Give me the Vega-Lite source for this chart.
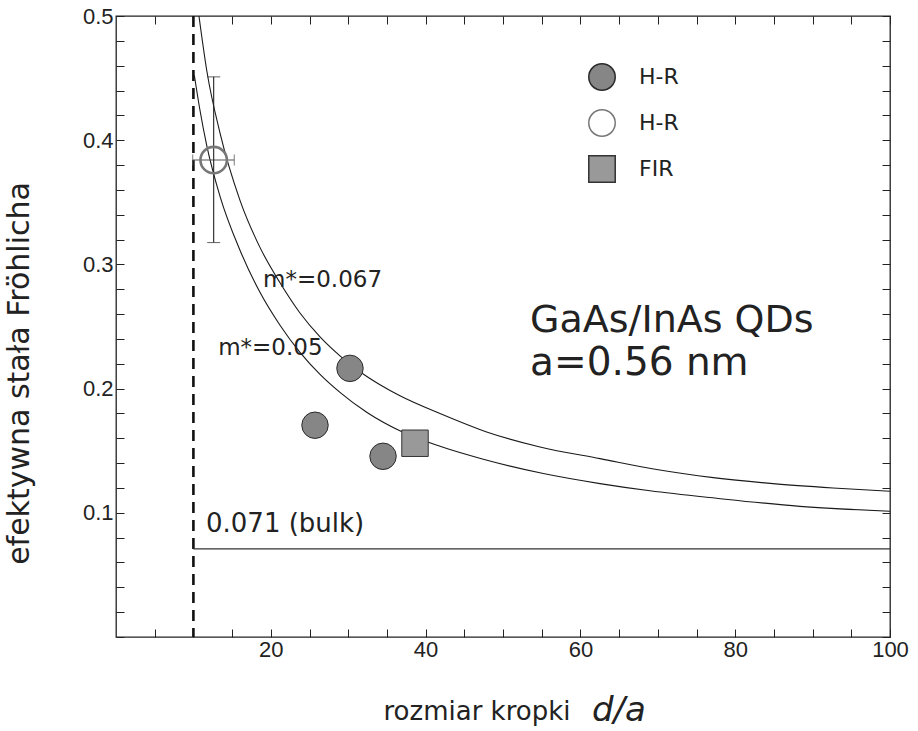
{
  "$schema": "https://vega.github.io/schema/vega-lite/v6.json",
  "width": 774,
  "height": 621,
  "autosize": {"type": "none"},
  "padding": {"left": 116, "top": 16, "right": 28, "bottom": 94},
  "background": "white",
  "config": {
    "view": {"stroke": "#222", "strokeWidth": 1.3},
    "axis": {"grid": false, "domain": false, "tickColor": "#222", "tickWidth": 1, "labelColor": "#222", "labelFont": "Liberation Sans", "labelFontSize": 22, "labelOverlap": false, "labelFlush": false}
  },
  "datasets": {
    "curves": [
      {"curve": "m067", "x": 10.72, "y": 0.5},
      {"curve": "m067", "x": 11.72, "y": 0.4563},
      {"curve": "m067", "x": 13.44, "y": 0.4057},
      {"curve": "m067", "x": 16.02, "y": 0.3516},
      {"curve": "m067", "x": 18.6, "y": 0.3137},
      {"curve": "m067", "x": 21.19, "y": 0.2852},
      {"curve": "m067", "x": 23.77, "y": 0.2609},
      {"curve": "m067", "x": 26.36, "y": 0.2417},
      {"curve": "m067", "x": 28.94, "y": 0.2264},
      {"curve": "m067", "x": 31.52, "y": 0.2136},
      {"curve": "m067", "x": 34.11, "y": 0.2031},
      {"curve": "m067", "x": 36.69, "y": 0.1942},
      {"curve": "m067", "x": 41.86, "y": 0.1799},
      {"curve": "m067", "x": 47.89, "y": 0.1651},
      {"curve": "m067", "x": 54.78, "y": 0.153},
      {"curve": "m067", "x": 62.53, "y": 0.1436},
      {"curve": "m067", "x": 69.86, "y": 0.1348},
      {"curve": "m067", "x": 77.17, "y": 0.1283},
      {"curve": "m067", "x": 84.88, "y": 0.1235},
      {"curve": "m067", "x": 92.64, "y": 0.12},
      {"curve": "m067", "x": 100, "y": 0.1173},
      {"curve": "m05", "x": 10.12, "y": 0.4523},
      {"curve": "m05", "x": 10.85, "y": 0.4241},
      {"curve": "m05", "x": 11.72, "y": 0.3959},
      {"curve": "m05", "x": 13.44, "y": 0.3548},
      {"curve": "m05", "x": 16.02, "y": 0.3114},
      {"curve": "m05", "x": 18.6, "y": 0.2775},
      {"curve": "m05", "x": 21.19, "y": 0.251},
      {"curve": "m05", "x": 23.77, "y": 0.2292},
      {"curve": "m05", "x": 26.36, "y": 0.2115},
      {"curve": "m05", "x": 28.94, "y": 0.197},
      {"curve": "m05", "x": 32.39, "y": 0.1809},
      {"curve": "m05", "x": 37.08, "y": 0.1648},
      {"curve": "m05", "x": 41.86, "y": 0.1535},
      {"curve": "m05", "x": 47.45, "y": 0.1431},
      {"curve": "m05", "x": 55.21, "y": 0.1316},
      {"curve": "m05", "x": 62.53, "y": 0.1235},
      {"curve": "m05", "x": 68.99, "y": 0.1177},
      {"curve": "m05", "x": 77.61, "y": 0.1117},
      {"curve": "m05", "x": 88.37, "y": 0.1052},
      {"curve": "m05", "x": 100, "y": 0.1012}
    ],
    "points": [
      {"series": "H-R filled", "x": 30.23, "y": 0.2163},
      {"series": "H-R filled", "x": 25.71, "y": 0.1705},
      {"series": "H-R filled", "x": 34.5, "y": 0.1455},
      {"series": "H-R open", "x": 12.62, "y": 0.384},
      {"series": "FIR", "x": 38.63, "y": 0.156}
    ],
    "err": [{"x": 12.62, "y": 0.384, "xlo": 9.91, "xhi": 15.28, "ylo": 0.3176, "yhi": 0.451}],
    "capsY": [{"x": 12.62, "y": 0.451}, {"x": 12.62, "y": 0.3176}],
    "capsX": [{"x": 9.91, "y": 0.384}, {"x": 15.28, "y": 0.384}],
    "labels": [
      {"text": "m*=0.067", "x": 19.0, "y": 0.2872, "size": 23},
      {"text": "m*=0.05", "x": 13.2, "y": 0.2329, "size": 23},
      {"text": "0.071 (bulk)", "x": 11.63, "y": 0.0907, "size": 26},
      {"text": "GaAs/InAs QDs", "x": 53.5, "y": 0.2545, "size": 38},
      {"text": "a=0.56 nm", "x": 53.5, "y": 0.2205, "size": 39}
    ]
  },
  "layer": [
    {
      "data": {"values": [{"x": 10}]},
      "mark": {"type": "rule", "color": "#111", "strokeWidth": 2.6, "strokeDash": [11, 7]},
      "encoding": {
        "x": {"field": "x", "type": "quantitative", "scale": {"domain": [0, 100], "nice": false, "zero": false}, "axis": null}
      }
    },
    {
      "data": {"values": [{"x": 10, "x2": 100, "y": 0.071}]},
      "mark": {"type": "rule", "color": "#333", "strokeWidth": 1.3},
      "encoding": {
        "x": {"field": "x", "type": "quantitative", "scale": {"domain": [0, 100], "nice": false, "zero": false},
              "axis": {"orient": "top", "values": [5,10,15,20,25,30,35,40,45,50,55,60,65,70,75,80,85,90,95,100], "labels": false, "tickSize": -8, "title": null}},
        "x2": {"field": "x2"},
        "y": {"field": "y", "type": "quantitative", "scale": {"domain": [0, 0.5], "nice": false, "zero": false},
              "axis": {"orient": "right", "values": [0,0.02,0.04,0.06,0.08,0.1,0.12,0.14,0.16,0.18,0.2,0.22,0.24,0.26,0.28,0.3,0.32,0.34,0.36,0.38,0.4,0.42,0.44,0.46,0.48,0.5], "labels": false, "tickSize": -8, "title": null}}
      }
    },
    {
      "data": {"name": "curves"},
      "mark": {"type": "line", "color": "#1a1a1a", "strokeWidth": 1.1, "interpolate": "monotone"},
      "encoding": {
        "x": {"field": "x", "type": "quantitative",
              "axis": {"orient": "bottom", "values": [5,10,15,20,25,30,35,40,45,50,55,60,65,70,75,80,85,90,95,100],
                       "labelExpr": "datum.value % 20 === 0 ? datum.label : ''", "tickSize": -8, "labelPadding": 10,
                       "title": "rozmiar kropki", "titleX": 267, "titleY": 82, "titleAlign": "left", "titleBaseline": "alphabetic",
                       "titleFont": "DejaVu Sans", "titleFontSize": 26, "titleFontWeight": "normal", "titleColor": "#222"}},
        "y": {"field": "y", "type": "quantitative",
              "axis": {"orient": "left", "values": [0,0.02,0.04,0.06,0.08,0.1,0.12,0.14,0.16,0.18,0.2,0.22,0.24,0.26,0.28,0.3,0.32,0.34,0.36,0.38,0.4,0.42,0.44,0.46,0.48,0.5],
                       "labelExpr": "datum.value > 0.01 && abs(datum.value*10 - round(datum.value*10)) < 0.001 ? format(datum.value, '.1f') : ''",
                       "tickSize": -8, "labelPadding": 11,
                       "title": "efektywna stała Fröhlicha", "titleX": -97, "titleY": 357, "titleAngle": -90, "titleAlign": "center", "titleBaseline": "middle",
                       "titleFont": "DejaVu Sans", "titleFontSize": 30, "titleFontWeight": "normal", "titleColor": "#222"}},
        "detail": {"field": "curve"},
        "order": {"field": "x", "type": "quantitative"}
      }
    },
    {
      "data": {"name": "err"},
      "mark": {"type": "rule", "color": "#555", "strokeWidth": 1.1},
      "encoding": {
        "x": {"field": "xlo", "type": "quantitative", "axis": null},
        "x2": {"field": "xhi"},
        "y": {"field": "y", "type": "quantitative", "axis": null}
      }
    },
    {
      "data": {"name": "err"},
      "mark": {"type": "rule", "color": "#222", "strokeWidth": 1.1},
      "encoding": {
        "x": {"field": "x", "type": "quantitative", "axis": null},
        "y": {"field": "ylo", "type": "quantitative", "axis": null},
        "y2": {"field": "yhi"}
      }
    },
    {
      "data": {"name": "capsY"},
      "mark": {"type": "tick", "orient": "horizontal", "color": "#333", "size": 13, "thickness": 1.1},
      "encoding": {
        "x": {"field": "x", "type": "quantitative", "axis": null},
        "y": {"field": "y", "type": "quantitative", "axis": null}
      }
    },
    {
      "data": {"name": "capsX"},
      "mark": {"type": "tick", "orient": "vertical", "color": "#555", "size": 11, "thickness": 1.1},
      "encoding": {
        "x": {"field": "x", "type": "quantitative", "axis": null},
        "y": {"field": "y", "type": "quantitative", "axis": null}
      }
    },
    {
      "data": {"name": "points"},
      "mark": {"type": "point", "size": 700, "opacity": 1, "filled": false},
      "encoding": {
        "x": {"field": "x", "type": "quantitative", "axis": null},
        "y": {"field": "y", "type": "quantitative", "axis": null},
        "shape": {"field": "series", "type": "nominal", "scale": {"domain": ["H-R filled", "H-R open", "FIR"], "range": ["circle", "circle", "square"]},
                  "legend": {"orient": "none", "legendX": 472, "legendY": 47, "title": null, "padding": 0,
                             "labelFont": "DejaVu Sans", "labelFontSize": 22, "labelColor": "#222", "symbolSize": 700, "rowPadding": 12, "labelOffset": 23,
                             "labelExpr": "datum.label == 'FIR' ? 'FIR' : 'H-R'",
                             "encode": {"symbols": {"update": {"strokeWidth": {"signal": "datum.value === 'H-R open' ? 2.6 : 1"}}}}}},
        "fill": {"field": "series", "type": "nominal", "scale": {"domain": ["H-R filled", "H-R open", "FIR"], "range": ["#868686", "transparent", "#999999"]}},
        "stroke": {"field": "series", "type": "nominal", "scale": {"domain": ["H-R filled", "H-R open", "FIR"], "range": ["#2a2a2a", "#777777", "#333333"]}},
        "strokeWidth": {"condition": {"test": "datum.series === 'H-R open'", "value": 2.6}, "value": 1}
      }
    },
    {
      "data": {"name": "labels"},
      "mark": {"type": "text", "align": "left", "baseline": "middle", "font": "DejaVu Sans", "color": "#222"},
      "encoding": {
        "x": {"field": "x", "type": "quantitative", "axis": null},
        "y": {"field": "y", "type": "quantitative", "axis": null},
        "text": {"field": "text"},
        "size": {"field": "size", "type": "quantitative", "scale": null}
      }
    },
    {
      "data": {"values": [{"text": "d/a", "x": 61.5, "y": -0.0679}]},
      "mark": {"type": "text", "align": "left", "baseline": "alphabetic", "font": "DejaVu Sans", "fontStyle": "italic", "fontSize": 34, "color": "#222"},
      "encoding": {
        "x": {"field": "x", "type": "quantitative", "axis": null},
        "y": {"field": "y", "type": "quantitative", "axis": null},
        "text": {"field": "text"}
      }
    }
  ],
  "resolve": {"axis": {"x": "independent", "y": "independent"}}
}
